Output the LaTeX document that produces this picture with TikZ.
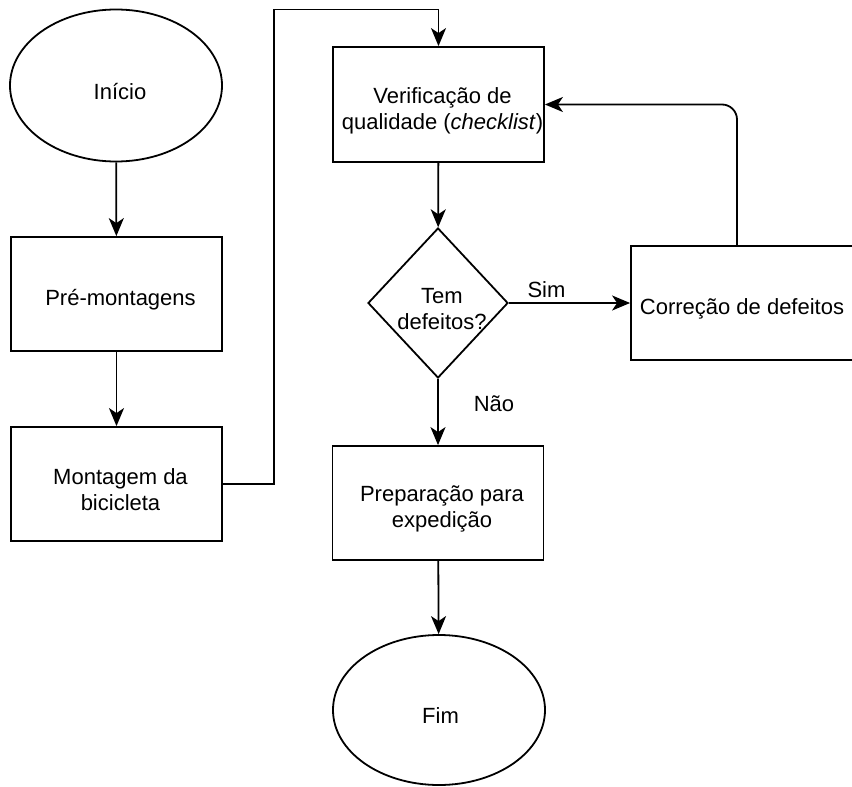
\documentclass[tikz,border=0pt]{standalone}
\usepackage{fontspec}
\setmainfont{Liberation Sans}
\usetikzlibrary{shapes.geometric,arrows.meta}
\begin{document}
\begin{tikzpicture}[x=1pt,y=-1pt,
  lbl/.style={font=\fontsize{22}{26}\selectfont, align=center, inner sep=0pt},
  txt/.style={label={[lbl, xshift=4pt, yshift=-6pt]center:#1}},
  proc/.style={draw, line width=1.8pt, minimum width=211pt, minimum height=114pt, inner sep=0pt},
  term/.style={draw, ellipse, line width=1.8pt, minimum width=212pt, minimum height=152pt, inner sep=0pt},
  dec/.style={draw, diamond, line width=1.8pt, minimum width=140pt, minimum height=150pt, inner sep=0pt},
  conn/.style={line width=1.8pt, -{Stealth[length=18pt,width=15pt,inset=5pt]}}]
\useasboundingbox (0,0) rectangle (852,787);

\node[term, txt={Início}] (ini) at (116,85.5) {};
\node[proc, txt={Pré-montagens}] (pre) at (116.5,294) {};
\node[proc, txt={Montagem da\\bicicleta}] (mont) at (116.5,484) {};
\node[proc, minimum height=115pt, txt={Verificação de\\qualidade (\textit{checklist})}] (verif) at (438.5,104.5) {};
\node[dec, txt={Tem\\defeitos?}] (dia) at (438,303) {};
\node[proc, minimum width=222pt, label={[lbl, yshift=-6pt]center:Correção de defeitos}] (corr) at (742,303) {};
\node[proc, txt={Preparação para\\expedição}] (prep) at (438,503) {};
\node[term, minimum height=150pt, label={[lbl, xshift=1.5pt, yshift=-6pt]center:Fim}] (fim) at (439,710) {};

\coordinate (c1) at (274,9.5);

\draw[conn] (ini) -- (pre);
\draw[conn] (pre) -- (mont);
\draw[conn] (mont.east) -| (c1) -| (verif.north);
\draw[conn] (verif) -- (dia);
\draw[conn] (dia.east) -- node[lbl, pos=0.31, yshift=13pt] {Sim} (corr.west);
\draw[conn, rounded corners=15pt] ([xshift=-5pt]corr.north) |- (verif.east);
\draw[conn] (dia.south) -- node[lbl, pos=0.38, xshift=56pt] {Não} (prep.north);
\draw[conn] (prep) -- (fim);
\end{tikzpicture}
\end{document}
